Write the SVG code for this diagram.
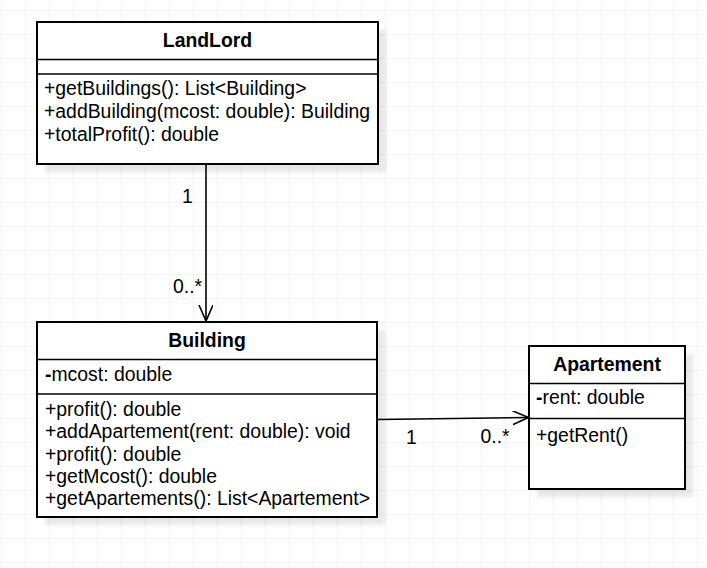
<svg xmlns="http://www.w3.org/2000/svg" width="707" height="568" viewBox="0 0 707 568">
<style>
.box{fill:#fff;stroke:#000;stroke-width:2}
.sep{stroke:#000;stroke-width:1.6;fill:none}
.sh{fill:#000;opacity:0.09;filter:url(#blur)}
.t{font-family:"Liberation Sans",Arial,sans-serif;font-size:19.4px;fill:#000}
.title{font-weight:bold;text-anchor:middle}
.edge{stroke:#000;stroke-width:1.6;fill:none}
</style>
<defs>
<pattern id="grid" x="1" y="10" width="24" height="24" patternUnits="userSpaceOnUse">
<path d="M0 0H24M0 0V24" stroke="#ebebeb" stroke-width="1.2" fill="none"/>
</pattern>
<filter id="blur" x="-10%" y="-10%" width="120%" height="120%"><feGaussianBlur stdDeviation="2"/></filter>
<marker id="open" markerWidth="20" markerHeight="20" refX="16" refY="7" orient="auto" markerUnits="userSpaceOnUse">
<path d="M0 0L16 7L0 14" stroke="#000" stroke-width="1.6" fill="none"/>
</marker>
</defs>
<rect width="707" height="568" fill="#fff"/>
<rect width="707" height="568" fill="url(#grid)"/>

<g id="LandLord">
<rect class="sh" x="45" y="30" width="341" height="142"/>
<rect class="box" x="37" y="22" width="341" height="142"/>
<line class="sep" x1="37" y1="59.5" x2="378" y2="59.5"/>
<line class="sep" x1="37" y1="74" x2="378" y2="74"/>
<text class="t title" x="207.5" y="47">LandLord</text>
<text class="t" x="44" y="95">+getBuildings(): List&lt;Building&gt;</text>
<text class="t" x="44" y="118">+addBuilding(mcost: double): Building</text>
<text class="t" x="44" y="140.5">+totalProfit(): double</text>
</g>

<g id="Building">
<rect class="sh" x="45" y="330" width="340" height="195"/>
<rect class="box" x="37" y="322" width="340" height="195"/>
<line class="sep" x1="37" y1="359.5" x2="377" y2="359.5"/>
<line class="sep" x1="37" y1="394" x2="377" y2="394"/>
<text class="t title" x="207" y="347">Building</text>
<text class="t" x="45" y="381"><tspan font-weight="bold">-</tspan>mcost: double</text>
<text class="t" x="45" y="416">+profit(): double</text>
<text class="t" x="45" y="438.3">+addApartement(rent: double): void</text>
<text class="t" x="45" y="460.6">+profit(): double</text>
<text class="t" x="45" y="482.9">+getMcost(): double</text>
<text class="t" x="45" y="505.2">+getApartements(): List&lt;Apartement&gt;</text>
</g>

<g id="Apartement">
<rect class="sh" x="537" y="354" width="156" height="143"/>
<rect class="box" x="529" y="346" width="156" height="143"/>
<line class="sep" x1="529" y1="383.5" x2="685" y2="383.5"/>
<line class="sep" x1="529" y1="418.5" x2="685" y2="418.5"/>
<text class="t title" x="607" y="370.7">Apartement</text>
<text class="t" x="536" y="404"><tspan font-weight="bold">-</tspan>rent: double</text>
<text class="t" x="536" y="441.5">+getRent()</text>
</g>

<g id="connectors">
<line class="edge" x1="206" y1="164" x2="206" y2="321" marker-end="url(#open)"/>
<text class="t" x="182" y="203">1</text>
<text class="t" x="173" y="292.5">0..*</text>
<line class="edge" x1="378" y1="419.5" x2="528.5" y2="417.5" marker-end="url(#open)"/>
<text class="t" x="406" y="443.5">1</text>
<text class="t" x="480.5" y="443">0..*</text>
</g>
</svg>
